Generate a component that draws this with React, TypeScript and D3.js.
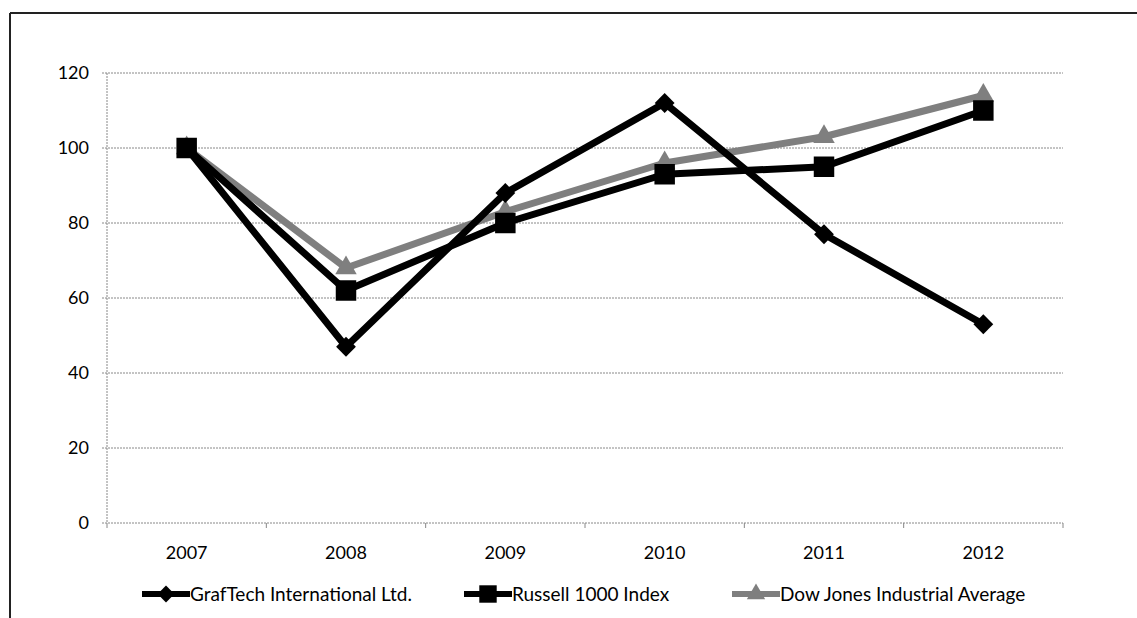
import React, { useEffect, useRef } from "react";
import * as d3 from "d3";

const W = 1137;
const H = 618;
const M = { left: 107, right: 1063, top: 73, bottom: 523 };

const years = ["2007", "2008", "2009", "2010", "2011", "2012"];
const grafTech = [100, 47, 88, 112, 77, 53];
const russell = [100, 62, 80, 93, 95, 110];
const dowJones = [100, 68, 83, 96, 103, 114];
const yTicks = [0, 20, 40, 60, 80, 100, 120];

const series = [
  { name: "GrafTech International Ltd.", values: grafTech, color: "#000", marker: "diamond", legendX: 142 },
  { name: "Russell 1000 Index", values: russell, color: "#000", marker: "square", legendX: 464 },
  { name: "Dow Jones Industrial Average", values: dowJones, color: "#7f7f7f", marker: "triangle", legendX: 732 },
];

const FONT = "Lato, 'Noto Sans', sans-serif";

function markerPath(kind: string) {
  if (kind === "diamond") return d3.symbol(d3.symbolDiamond2, 250)()!;
  if (kind === "square") return d3.symbol(d3.symbolSquare, 420)()!;
  return d3.symbol(d3.symbolTriangle, 200)()!;
}

export default function App() {
  const ref = useRef<SVGSVGElement>(null);

  useEffect(() => {
    const svg = d3.select(ref.current);
    svg.selectAll("*").remove();

    const x = d3.scaleBand().domain(years).range([M.left, M.right]);
    const y = d3.scaleLinear().domain([0, 120]).range([M.bottom, M.top]);
    const cx = (d: string) => (x(d) || 0) + x.bandwidth() / 2;

    // frame (top and left edges)
    svg.append("line").attr("x1", 10).attr("x2", W).attr("y1", 13).attr("y2", 13)
      .attr("stroke", "#222").attr("stroke-width", 2);
    svg.append("line").attr("x1", 10).attr("x2", 10).attr("y1", 13).attr("y2", H)
      .attr("stroke", "#222").attr("stroke-width", 2);

    // gridlines
    svg.append("g").selectAll("line").data(yTicks).join("line")
      .attr("x1", M.left - 5).attr("x2", M.right)
      .attr("y1", (d) => y(d)).attr("y2", (d) => y(d))
      .attr("stroke", "#888").attr("stroke-width", 1).attr("stroke-dasharray", "2,1");

    // y axis line
    svg.append("line").attr("x1", M.left).attr("x2", M.left).attr("y1", M.top).attr("y2", M.bottom)
      .attr("stroke", "#888").attr("stroke-dasharray", "2,1");

    // x ticks at band edges
    const edges = years.map((d) => x(d) || 0).concat([M.right]);
    svg.append("g").selectAll("line").data(edges).join("line")
      .attr("x1", (d) => d).attr("x2", (d) => d)
      .attr("y1", M.bottom).attr("y2", M.bottom + 5)
      .attr("stroke", "#888");

    // y labels
    svg.append("g").selectAll("text").data(yTicks).join("text")
      .attr("x", 89).attr("y", (d) => y(d)).attr("dy", "0.35em")
      .attr("text-anchor", "end").attr("font-family", FONT).attr("font-size", 18)
      .attr("fill", "#000").text((d) => d);

    // x labels
    svg.append("g").selectAll("text").data(years).join("text")
      .attr("x", cx).attr("y", 553).attr("dy", "0.35em")
      .attr("text-anchor", "middle").attr("font-family", FONT).attr("font-size", 18)
      .attr("fill", "#000").text((d) => d);

    const line = d3.line<number>().x((_, i) => cx(years[i])).y((d) => y(d));

    // Excel-like draw order: last series underneath
    [...series].reverse().forEach((s) => {
      const g = svg.append("g");
      g.append("path").datum(s.values).attr("d", line)
        .attr("fill", "none").attr("stroke", s.color).attr("stroke-width", 7)
        .attr("stroke-linejoin", "round");
      g.selectAll("path.m").data(s.values).join("path").attr("class", "m")
        .attr("d", markerPath(s.marker))
        .attr("transform", (d, i) => `translate(${cx(years[i])},${y(d)})`)
        .attr("fill", s.color);
    });

    // legend
    const ly = 594;
    series.forEach((s) => {
      const lg = svg.append("g");
      lg.append("line").attr("x1", s.legendX).attr("x2", s.legendX + 48)
        .attr("y1", ly).attr("y2", ly).attr("stroke", s.color).attr("stroke-width", 6);
      lg.append("path").attr("d", markerPath(s.marker))
        .attr("transform", `translate(${s.legendX + 24},${ly}) scale(0.85)`)
        .attr("fill", s.color);
      lg.append("text").attr("x", s.legendX + 48).attr("y", ly).attr("dy", "0.35em")
        .attr("font-family", FONT).attr("font-size", 19).attr("fill", "#000").text(s.name);
    });
  }, []);

  return (
    <svg
      ref={ref}
      width={W}
      height={H}
      style={{ position: "absolute", left: 0, top: 0, background: "#fff" }}
    />
  );
}
